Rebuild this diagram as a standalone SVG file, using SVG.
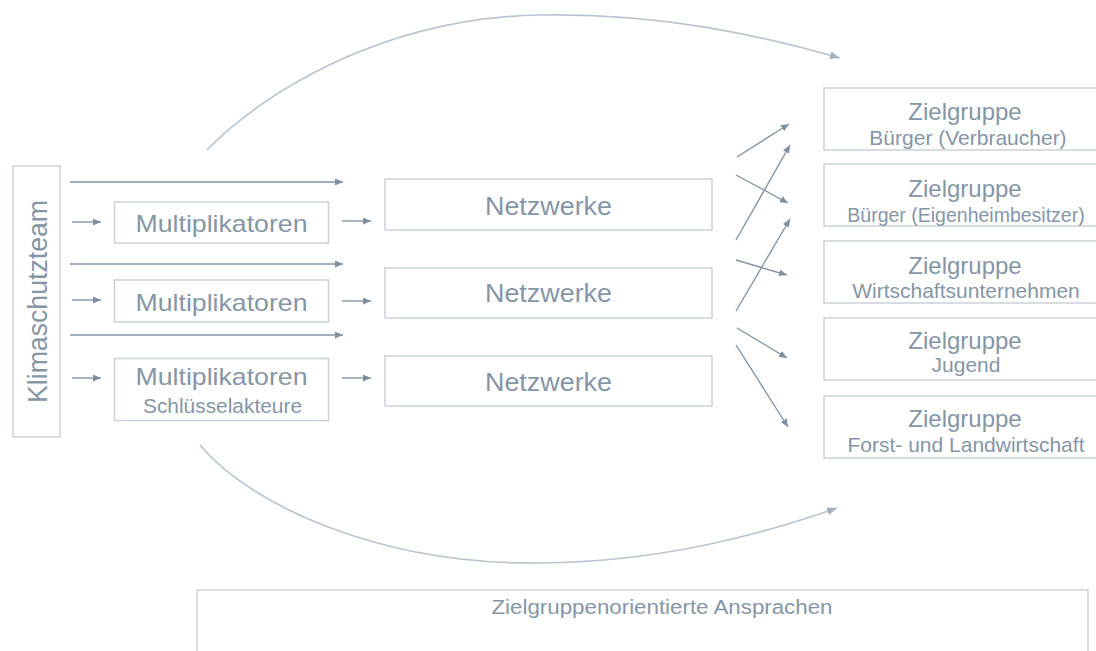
<svg xmlns="http://www.w3.org/2000/svg" width="1096" height="651" viewBox="0 0 1096 651">
<style>
.box{fill:#fff;stroke:#cdd5dc;stroke-width:1.6}
.t{font-family:"Liberation Sans",Arial,sans-serif;fill:#8596a7;text-anchor:middle}
.main{font-size:24px}
.sub{font-size:21px}
.ar{stroke:#8495a6;stroke-width:1.4;fill:none;marker-end:url(#ah)}
.cv{stroke:#b9c6d1;stroke-width:1.7;fill:none;marker-end:url(#ahl)}
</style>
<defs>
<marker id="ah" markerUnits="userSpaceOnUse" markerWidth="9" markerHeight="8" refX="8" refY="3.5" orient="auto">
<path d="M0,0 L8,3.5 L0,7 z" fill="#7d8fa0"/>
</marker>
<marker id="ahl" markerUnits="userSpaceOnUse" markerWidth="11" markerHeight="9" refX="10" refY="4" orient="auto">
<path d="M0,0 L10,4 L0,8 z" fill="#a3b2bf"/>
</marker>
</defs>
<rect width="1096" height="651" fill="#fff"/>

<g id="connectors">
<path class="cv" d="M207,150 C260,95 380,18 540,15 C660,13 760,35 840,58"/>
<path class="cv" d="M200,445 C250,505 380,565 540,563 C660,562 760,535 837,508"/>
<line class="ar" x1="70" y1="182" x2="343" y2="182"/>
<line class="ar" x1="70" y1="264" x2="343" y2="264"/>
<line class="ar" x1="70" y1="335" x2="343" y2="335"/>
<line class="ar" x1="72" y1="222" x2="101" y2="222"/>
<line class="ar" x1="72" y1="300" x2="101" y2="300"/>
<line class="ar" x1="72" y1="378" x2="101" y2="378"/>
<line class="ar" x1="342" y1="221" x2="371" y2="221"/>
<line class="ar" x1="342" y1="301" x2="371" y2="301"/>
<line class="ar" x1="342" y1="378" x2="371" y2="378"/>
<line class="ar" x1="737" y1="157" x2="789" y2="124"/>
<line class="ar" x1="736" y1="175" x2="788" y2="203"/>
<line class="ar" x1="736" y1="240" x2="790" y2="145"/>
<line class="ar" x1="736" y1="260" x2="787" y2="275"/>
<line class="ar" x1="736" y1="311" x2="790" y2="219"/>
<line class="ar" x1="737" y1="328" x2="787" y2="358"/>
<line class="ar" x1="736" y1="345" x2="788" y2="427"/>
</g>

<g id="klimaschutzteam">
<rect class="box" x="13" y="166" width="47" height="271"/>
<text class="t" font-size="27" textLength="203" lengthAdjust="spacingAndGlyphs" transform="translate(46.5,301.5) rotate(-90)" x="0" y="0">Klimaschutzteam</text>
</g>

<g id="multiplikatoren1">
<rect class="box" x="114.5" y="202" width="214" height="41"/>
<text class="t main" x="221.5" y="231.5" textLength="172" lengthAdjust="spacingAndGlyphs">Multiplikatoren</text>
</g>
<g id="multiplikatoren2">
<rect class="box" x="114.5" y="280" width="214" height="42"/>
<text class="t main" x="221.5" y="310.5" textLength="172" lengthAdjust="spacingAndGlyphs">Multiplikatoren</text>
</g>
<g id="multiplikatoren3">
<rect class="box" x="114.5" y="358.5" width="214" height="62"/>
<text class="t main" x="221.5" y="385" textLength="172" lengthAdjust="spacingAndGlyphs">Multiplikatoren</text>
<text class="t" font-size="20" x="222.5" y="413" textLength="159" lengthAdjust="spacingAndGlyphs">Schlüsselakteure</text>
</g>

<g id="netzwerke1">
<rect class="box" x="385" y="179" width="327" height="51"/>
<text class="t" font-size="25" x="548.5" y="215" textLength="127" lengthAdjust="spacingAndGlyphs">Netzwerke</text>
</g>
<g id="netzwerke2">
<rect class="box" x="385" y="268" width="327" height="50"/>
<text class="t" font-size="25" x="548.5" y="302" textLength="127" lengthAdjust="spacingAndGlyphs">Netzwerke</text>
</g>
<g id="netzwerke3">
<rect class="box" x="385" y="356" width="327" height="50"/>
<text class="t" font-size="25" x="548.5" y="390.5" textLength="127" lengthAdjust="spacingAndGlyphs">Netzwerke</text>
</g>

<g id="zielgruppe1">
<rect class="box" x="824" y="88" width="290" height="62"/>
<text class="t main" x="965" y="119.5">Zielgruppe</text>
<text class="t sub" x="968" y="145">Bürger (Verbraucher)</text>
</g>
<g id="zielgruppe2">
<rect class="box" x="824" y="164" width="290" height="62"/>
<text class="t main" x="965" y="196.5">Zielgruppe</text>
<text class="t" font-size="19.5" x="966" y="221.5">Bürger (Eigenheimbesitzer)</text>
</g>
<g id="zielgruppe3">
<rect class="box" x="824" y="241" width="290" height="62"/>
<text class="t main" x="965" y="273.5">Zielgruppe</text>
<text class="t sub" x="966" y="298">Wirtschaftsunternehmen</text>
</g>
<g id="zielgruppe4">
<rect class="box" x="824" y="318" width="290" height="62"/>
<text class="t main" x="965" y="349">Zielgruppe</text>
<text class="t sub" x="966" y="372">Jugend</text>
</g>
<g id="zielgruppe5">
<rect class="box" x="824" y="396" width="290" height="62"/>
<text class="t main" x="965" y="427">Zielgruppe</text>
<text class="t sub" x="966" y="452">Forst- und Landwirtschaft</text>
</g>

<g id="ansprachen">
<rect class="box" x="197" y="590" width="891" height="80"/>
<text class="t" font-size="20" x="662" y="614" textLength="341" lengthAdjust="spacingAndGlyphs">Zielgruppenorientierte Ansprachen</text>
</g>
</svg>
